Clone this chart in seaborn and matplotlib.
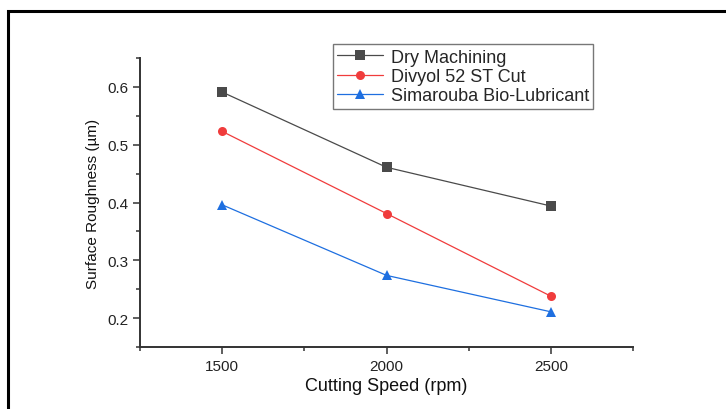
import pandas as pd
import seaborn as sns
import matplotlib.pyplot as plt
from matplotlib.patches import Rectangle
from matplotlib.ticker import MultipleLocator

sns.set_style('white')
plt.rcParams['font.family'] = ['Liberation Sans', 'DejaVu Sans']

speeds = [1500, 2000, 2500]
dry = [0.591, 0.461, 0.394]
divyol = [0.523, 0.381, 0.238]
simarouba = [0.396, 0.274, 0.211]
names = ['Dry Machining', 'Divyol 52 ST Cut', 'Simarouba Bio-Lubricant']
colors = ['#4a4a4a', '#f03c3c', '#1e6fe0']
markers = ['s', 'o', '^']

df = pd.DataFrame({
    'Speed': speeds * 3,
    'Roughness': dry + divyol + simarouba,
    'Condition': [n for n in names for _ in speeds],
})

fig = plt.figure(figsize=(7.26, 4.10), dpi=100)
ax = fig.add_axes([0.193, 0.151, 0.679, 0.705])

sns.lineplot(data=df, x='Speed', y='Roughness', hue='Condition', style='Condition',
             palette=colors, markers=markers, dashes=False, hue_order=names,
             style_order=names, markersize=6.5, linewidth=0.9,
             markeredgewidth=0, ax=ax)

ax.set_xlim(1250, 2750)
ax.set_ylim(0.15, 0.65)
ax.xaxis.set_major_locator(MultipleLocator(500))
ax.xaxis.set_minor_locator(MultipleLocator(250))
ax.yaxis.set_minor_locator(MultipleLocator(0.05))
ax.set_yticks([0.2, 0.3, 0.4, 0.5, 0.6])
ax.tick_params(which='major', direction='out', length=5, width=1.1, color='#333333',
               labelsize=11, labelcolor='#222222', left=True, bottom=True)
ax.tick_params(which='minor', direction='out', length=3, width=1.1, color='#333333',
               left=True, bottom=True)

for s in ['top', 'right']:
    ax.spines[s].set_visible(False)
for s in ['left', 'bottom']:
    ax.spines[s].set_color('#333333')
    ax.spines[s].set_linewidth(1.4)

ax.set_xlabel('Cutting Speed (rpm)', fontsize=13, color='#111111', labelpad=3)
ax.set_ylabel('Surface Roughness (µm)', fontsize=11, color='#111111', labelpad=5)

leg = ax.legend(loc='upper left', bbox_to_anchor=(0.391, 1.048), fontsize=13,
                frameon=True, fancybox=False, handlelength=2.5, borderpad=0.25,
                labelspacing=0.12, handletextpad=0.45, borderaxespad=0)
leg.get_frame().set_edgecolor('#555555')
leg.get_frame().set_linewidth(1.0)

# outer frame around the figure
fig.patches.append(Rectangle((0.011, -0.1), 1.2, 1.071, transform=fig.transFigure,
                             fill=False, edgecolor='black', linewidth=2.2))

fig.savefig('out.png', dpi=100)
